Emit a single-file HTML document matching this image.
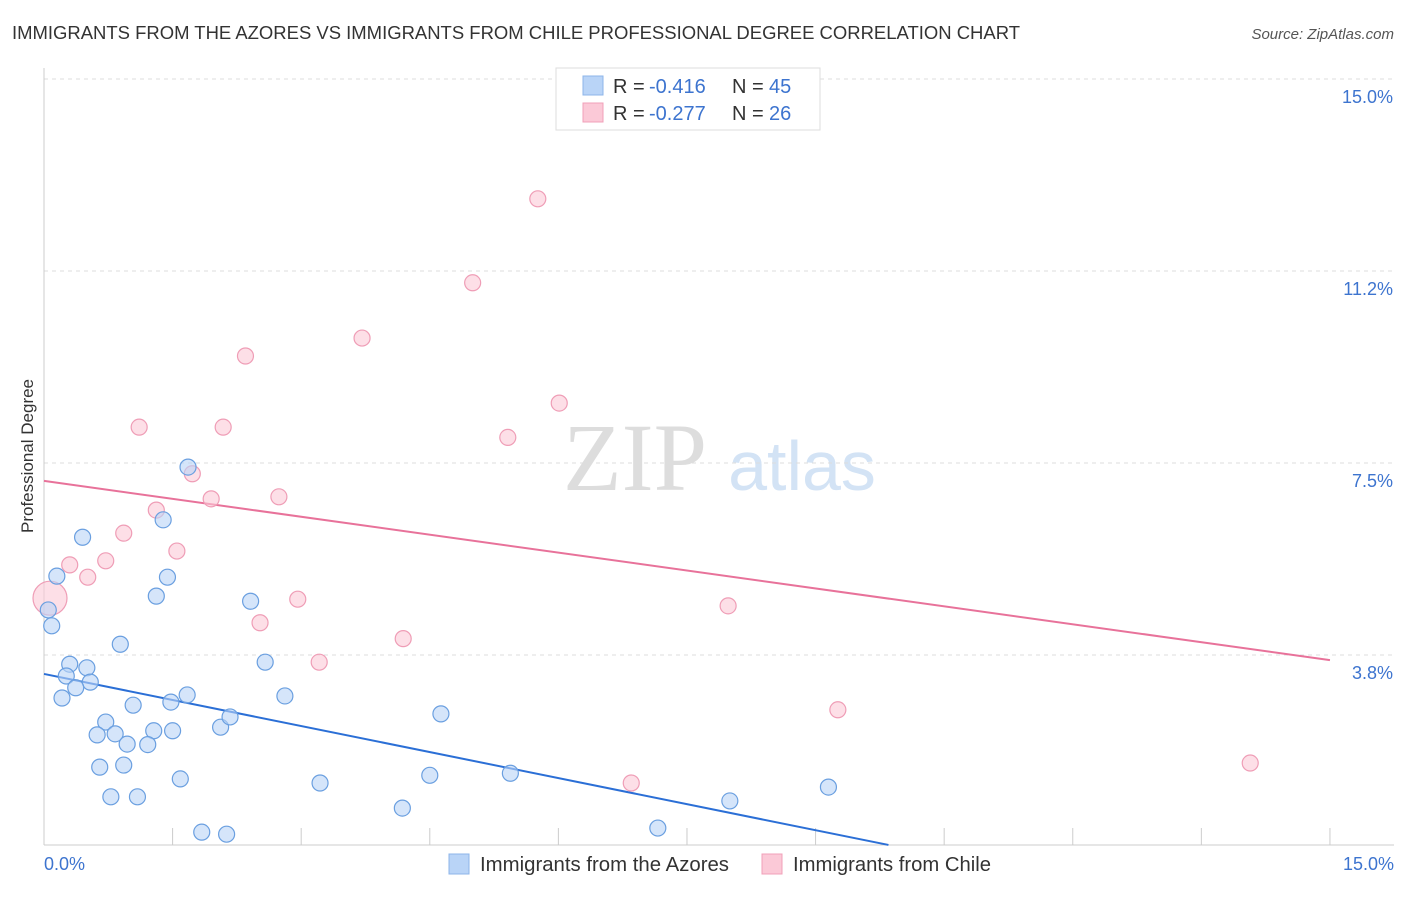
<!DOCTYPE html>
<html><head><meta charset="utf-8"><style>
body{margin:0;background:#fff;font-family:"Liberation Sans",sans-serif;}
svg text{font-family:"Liberation Sans",sans-serif;}
svg text.serif{font-family:"Liberation Serif",serif;}
</style></head><body>
<svg id="chart" width="1406" height="892" xmlns="http://www.w3.org/2000/svg">
<text x="12" y="39" font-size="18.4" fill="#333" textLength="1008" lengthAdjust="spacingAndGlyphs">IMMIGRANTS FROM THE AZORES VS IMMIGRANTS FROM CHILE PROFESSIONAL DEGREE CORRELATION CHART</text>
<text x="1394" y="39" font-size="15" fill="#555" text-anchor="end" font-style="italic">Source: ZipAtlas.com</text>
<g><text class="serif" x="635" y="490" font-size="96" fill="#ddd" text-anchor="middle">ZIP</text><text x="802" y="490" font-size="70" fill="#d3e3f5" text-anchor="middle">atlas</text></g>
<text transform="translate(33,456) rotate(-90)" font-size="17" fill="#333" text-anchor="middle">Professional Degree</text>
<g id="grid"></g><g id="axes"></g><g id="lines"></g><g id="points"></g>
<g>
<rect x="556" y="68" width="264" height="62" fill="#fff" stroke="#ddd"/>
<rect x="583" y="76" width="20" height="19" fill="#b9d4f7" stroke="#8db5ea"/>
<rect x="583" y="103" width="20" height="19" fill="#fbc9d7" stroke="#f0a0b8"/>
<text x="613" y="93" font-size="20" fill="#333">R =</text>
<text x="649" y="93" font-size="20" fill="#3d74cf">-0.416</text>
<text x="732" y="93" font-size="20" fill="#333">N =</text>
<text x="769" y="93" font-size="20" fill="#3d74cf">45</text>
<text x="613" y="120" font-size="20" fill="#333">R =</text>
<text x="649" y="120" font-size="20" fill="#3d74cf">-0.277</text>
<text x="732" y="120" font-size="20" fill="#333">N =</text>
<text x="769" y="120" font-size="20" fill="#3d74cf">26</text>
</g>
<g>
<rect x="449" y="854" width="20" height="20" fill="#b9d4f7" stroke="#8db5ea"/>
<text x="480" y="871" font-size="20" fill="#333" textLength="249" lengthAdjust="spacingAndGlyphs">Immigrants from the Azores</text>
<rect x="762" y="854" width="20" height="20" fill="#fbc9d7" stroke="#f0a0b8"/>
<text x="793" y="871" font-size="20" fill="#333" textLength="198" lengthAdjust="spacingAndGlyphs">Immigrants from Chile</text>
</g>
</svg>
<script>
const yTicks=[3.75,7.5,11.25,15];
const yTickLabels=["3.8%","7.5%","11.2%","15.0%"];
const xTickLabels=["0.0%","15.0%"];
const azoresX=[0.05,0.09,0.15,0.45,0.3,0.26,0.5,0.54,0.37,0.21,0.89,1.31,1.44,1.39,1.68,2.41,2.58,2.81,1.67,1.48,1.04,0.72,0.62,0.83,0.97,1.28,1.5,1.21,0.93,0.65,2.06,2.17,1.59,0.78,1.09,1.84,2.13,3.22,4.18,4.5,4.63,5.44,7.16,8.0,9.15];
const azoresY=[4.63,4.32,5.29,6.05,3.57,3.34,3.5,3.22,3.11,2.91,3.96,4.9,5.27,6.39,7.42,4.8,3.61,2.95,2.97,2.83,2.77,2.44,2.19,2.21,2.01,2.27,2.27,2.0,1.6,1.56,2.34,2.54,1.33,0.98,0.98,0.29,0.25,1.25,0.76,1.4,2.6,1.44,0.37,0.9,1.17];
const chileX=[0.07,0.3,0.51,0.72,0.93,1.31,1.55,1.73,1.95,1.11,2.09,2.35,2.74,2.52,2.96,3.21,3.71,4.19,5.0,5.41,5.76,6.01,7.98,9.26,14.07,6.85];
const chileY=[4.86,5.51,5.27,5.59,6.13,6.58,5.78,7.29,6.8,8.2,8.2,9.59,6.84,4.38,4.84,3.61,9.94,4.07,11.02,8.0,12.66,8.67,4.71,2.68,1.64,1.25];
const azoresTrend=[[0,3.38],[9.85,0.04]];
const chileTrend=[[0,7.15],[15,3.65]];
const X=v=>44+v*85.73, Y=v=>847-v*51.2;
const NS="http://www.w3.org/2000/svg";
function mk(p,t,a){const e=document.createElementNS(NS,t);for(const k in a)e.setAttribute(k,a[k]);p.appendChild(e);return e;}
const grid=document.getElementById('grid'),axes=document.getElementById('axes'),lines=document.getElementById('lines'),pts=document.getElementById('points');
yTicks.forEach((t,i)=>{const l=mk(grid,'line',{x1:44,x2:1394,y1:Y(t),y2:Y(t),stroke:'#ddd','stroke-dasharray':'4,4'});


const tx=mk(axes,'text',{x:1393,y:Y(t)+24,'font-size':18,fill:'#3d74cf','text-anchor':'end'});tx.textContent=yTickLabels[i];

});
const xa=mk(axes,'line',{x1:44,x2:1394,y1:845,y2:845,stroke:'#ccc'});


const ya=mk(axes,'line',{x1:44,x2:44,y1:68,y2:845,stroke:'#ccc'});


for(let i=1;i<=10;i++){const t=mk(axes,'line',{x1:X(i*1.5),x2:X(i*1.5),y1:828,y2:845,stroke:'#ccc'});

}
[[0,'start',44],[15,'end',1394]].forEach((d,i)=>{const t=mk(axes,'text',{x:d[2],y:870,'font-size':18,fill:'#3d74cf','text-anchor':d[1]});t.textContent=xTickLabels[i];

});
function dots(xs,ys,fill,stroke,name,big){xs.forEach((x,i)=>{const c=mk(pts,'circle',{cx:X(x),cy:Y(ys[i]),r:(big&&i===0)?17:8,fill:fill,stroke:stroke,'stroke-width':1.2,'fill-opacity':0.6});

});}
const la=mk(lines,'line',{x1:X(azoresTrend[0][0]),y1:Y(azoresTrend[0][1]),x2:X(azoresTrend[1][0]),y2:Y(azoresTrend[1][1]),stroke:'#2b6fd6','stroke-width':2});


const lc=mk(lines,'line',{x1:X(chileTrend[0][0]),y1:Y(chileTrend[0][1]),x2:X(chileTrend[1][0]),y2:Y(chileTrend[1][1]),stroke:'#e8729a','stroke-width':2});


dots(chileX,chileY,'#fbc9d7','#ef9db6','chile-point',true);
dots(azoresX,azoresY,'#b9d4f7','#6a9fe0','azores-point',false);
</script>
</body></html>
